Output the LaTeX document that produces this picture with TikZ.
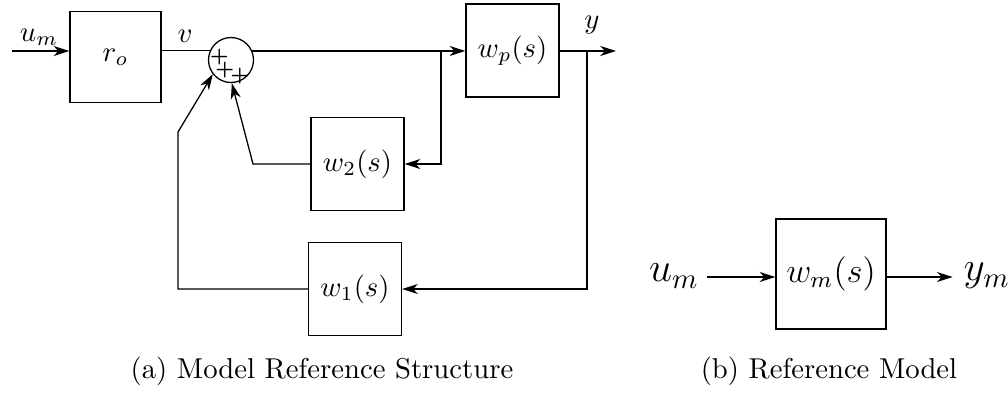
\documentclass[tikz,border=0pt]{standalone}
\usetikzlibrary{arrows.meta}
\begin{document}
\begin{tikzpicture}[x=0.3484pt,y=-0.3484pt,
  blk/.style={draw,minimum width=#1*0.3484pt,minimum height=#1*0.3484pt,inner sep=0pt,line width=0.45pt},
  sumc/.style={draw,circle,minimum size=45*0.3484pt,inner sep=0pt,line width=0.45pt},
  conn/.style={line width=0.45pt},
  arr/.style={conn,-{Stealth[length=5.5pt,width=3.5pt,inset=1.7pt]}},
  lbl/.style={inner sep=0pt},
  plussign/.style={inner sep=0pt,font=\fontsize{6.2}{7}\selectfont\bfseries},
  captext/.style={inner sep=0pt,anchor=base,font=\normalsize}]
\useasboundingbox (0,0) rectangle (1008,394);
% panel (a)
\coordinate (in) at (12,51);
\node[blk=91] (ro) at (115.5,57) {$r_o$};
\node[sumc] (sum) at (231,60) {};
\node[blk=93] (wp) at (512.5,50.5) {$w_p(s)$};
\node[blk=93] (w2) at (357.5,164) {$w_2(s)$};
\node[blk=93] (w1) at (355,289) {$w_1(s)$};
\coordinate (b2) at (441,51);
\coordinate (by) at (587,51);
\coordinate (yout) at (616,51);
\coordinate (k2) at (253,164);
\coordinate (k1a) at (178,289);
\coordinate (k1b) at (178,132);
\node[lbl] (um) at (39,37) {$u_m$};
\node[lbl] (v) at (185,36) {$v$};
\node[lbl] (y) at (592,25) {$y$};
\node[plussign] (p1) at (219.5,57) {+};
\node[plussign] (p2) at (225,70.5) {+};
\node[plussign] (p3) at (240,76) {+};
\draw[arr] (in) -- (in -| ro.west);
\draw[conn] (ro.east |- sum.156.4) -- (sum.156.4);
\draw[arr] (sum.23.6) -- (wp.west |- sum.23.6);
\draw[arr] (wp.east |- by) -- (yout);
\draw[arr] (b2) |- (w2.east);
\draw[arr] (w2.west) -- (k2) -- (sum.-88);
\draw[arr] (by) |- (w1.east);
\draw[arr] (w1.west) -- (k1a) -- (k1b) -- (sum.218);
\node[captext] (capa) at (322,378) {(a) Model Reference Structure};
% panel (b)
\node[blk=110,font=\large] (wm) at (831,274) {$w_m(s)$};
\node[lbl,font=\Large] (um2) at (674,276) {$u_m$};
\node[lbl,font=\Large,anchor=west] (ym) at (963,276) {$y_m$};
\draw[arr] (um2.east) ++(8,1) coordinate (um2s) -- (wm.west |- um2s);
\draw[arr] (wm.east |- um2s) -- ++(66,0);
\node[captext] (capb) at (829,378) {(b) Reference Model};
\end{tikzpicture}
\end{document}
